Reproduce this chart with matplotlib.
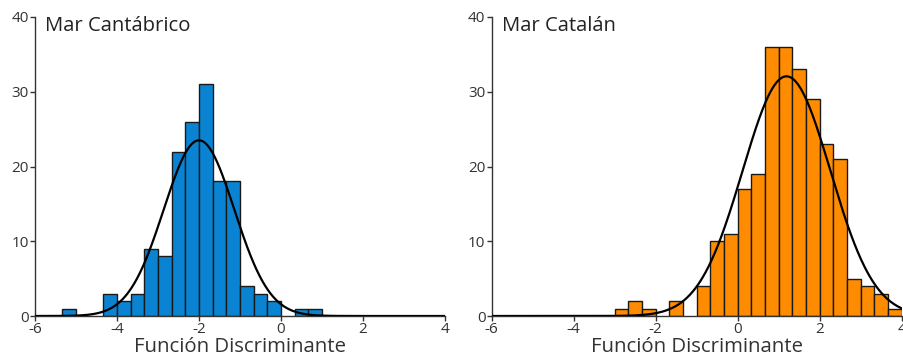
import numpy as np
import matplotlib
matplotlib.use("Agg")
import matplotlib.pyplot as plt

plt.rcParams['font.family'] = ['Open Sans', 'DejaVu Sans']

# Bin edges (width 1/3) and counts
cant_left_edges = [-16/3, -5, -14/3, -13/3, -4, -11/3, -10/3, -3, -8/3, -7/3, -2, -5/3, -4/3, -1, -2/3, -1/3, 0, 1/3, 2/3]
cant_counts =     [1,      0,   0,     3,    2,    3,     9,    8,   22,   26,  31,  18,   18,   4,   3,    2,   0,  1,   1]

cat_left_edges = [-3, -8/3, -7/3, -2, -5/3, -4/3, -1, -2/3, -1/3, 0, 1/3, 2/3, 1, 4/3, 5/3, 2, 7/3, 8/3, 3, 10/3, 11/3]
cat_counts =     [1,   2,    1,    0,  2,    0,    4,  10,   11,   17, 19, 36,  36, 33, 29,  23, 21, 5,   4, 3,    1]

bin_width = 1/3

# Fitted normal curve parameters
cant_mean, cant_sd = -2.0, 0.86
cat_mean, cat_sd = 1.19, 1.07

panels = [
    ("Mar Cantábrico", cant_left_edges, cant_counts, cant_mean, cant_sd, "#0A84D2"),
    ("Mar Catalán", cat_left_edges, cat_counts, cat_mean, cat_sd, "#FF8C00"),
]

xticks = [-6, -4, -2, 0, 2, 4]
yticks = [0, 10, 20, 30, 40]

fig = plt.figure(figsize=(9.04, 3.56), dpi=100)
W, H = 904, 356
axes_px = [(35, 17, 410, 299), (491.7, 17, 410, 299)]

for (title, edges, counts, mu, sd, color), (x0, y0, w, h) in zip(panels, axes_px):
    ax = fig.add_axes([x0 / W, 1 - (y0 + h) / H, w / W, h / H])
    counts = np.array(counts)
    edges = np.array(edges)
    mask = counts > 0
    ax.bar(edges[mask], counts[mask], width=bin_width, align='edge',
           color=color, edgecolor='#1a1a1a', linewidth=1.0, zorder=2)
    n = counts.sum()
    xs = np.linspace(-6, 4, 600)
    ys = n * bin_width / (sd * np.sqrt(2 * np.pi)) * np.exp(-0.5 * ((xs - mu) / sd) ** 2)
    ax.plot(xs, ys, color='black', linewidth=1.6, zorder=3)
    ax.set_xlim(-6, 4)
    ax.set_ylim(0, 40)
    ax.set_xticks(xticks)
    ax.set_xticklabels([str(t) for t in xticks])
    ax.set_yticks(yticks)
    for s in ['top', 'right']:
        ax.spines[s].set_visible(False)
    for s in ['left', 'bottom']:
        ax.spines[s].set_color('#333333')
        ax.spines[s].set_linewidth(1.0)
    ax.tick_params(axis='both', direction='out', length=3.5, width=1.0,
                   color='#333333', labelcolor='#333333', labelsize=11, pad=1)
    ax.set_xlabel("Función Discriminante", fontsize=14.7, color='#333333', labelpad=0)
    ax.text(10 / w, 1 + 1 / h, title, transform=ax.transAxes, fontsize=14.6,
            color='#222222', va='top', ha='left')
    ax.patch.set_alpha(0)

fig.savefig("out.png", dpi=100)
